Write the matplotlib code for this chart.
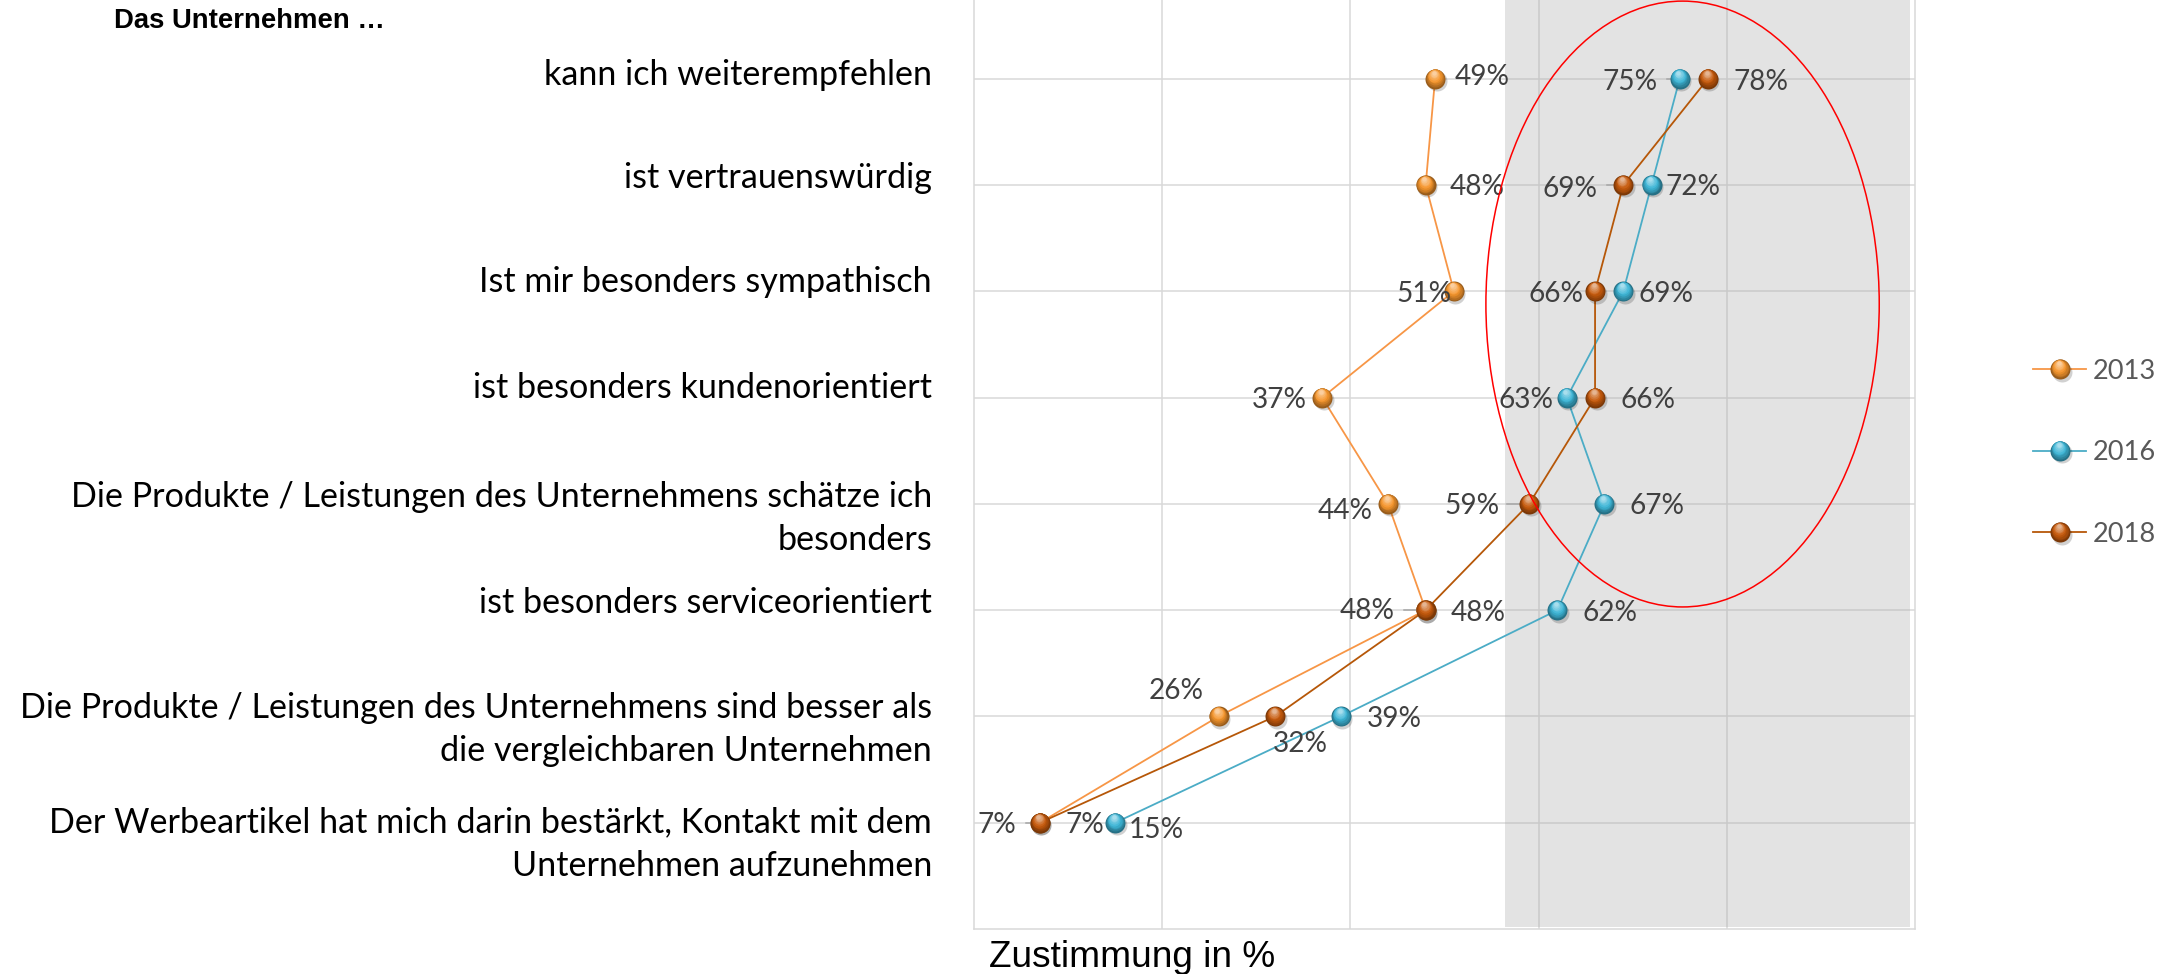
import numpy as np
import matplotlib
matplotlib.use("Agg")
import matplotlib.pyplot as plt
from matplotlib import transforms
from matplotlib.patches import Ellipse
from matplotlib.colors import to_rgb

# ---------------- data ----------------
categories = [
    "kann ich weiterempfehlen",
    "ist vertrauenswürdig",
    "Ist mir besonders sympathisch",
    "ist besonders kundenorientiert",
    "Die Produkte / Leistungen des Unternehmens schätze ich\nbesonders",
    "ist besonders serviceorientiert",
    "Die Produkte / Leistungen des Unternehmens sind besser als\ndie vergleichbaren Unternehmen",
    "Der Werbeartikel hat mich darin bestärkt, Kontakt mit dem\nUnternehmen aufzunehmen",
]
years = ["2013", "2016", "2018"]
values_2013 = [49, 48, 51, 37, 44, 48, 26, 7]
values_2016 = [75, 72, 69, 63, 67, 62, 39, 15]
values_2018 = [78, 69, 66, 66, 59, 48, 32, 7]
title_text = "Das Unternehmen …"
xlabel_text = "Zustimmung in %"

# ---------------- styling / layout ----------------
W, H = 2170, 974
line_colors = {"2013": "#F79646", "2016": "#4BACC6", "2018": "#B65708"}
marker_colors = {"2013": "#F5952C", "2016": "#3DB5D6", "2018": "#C65A0C"}
# label placement per point: (dx px, ha, dy px)
label_layout = {
    "2013": [(20, "left", -4), (24, "left", 0), (-2, "right", 0), (-15, "right", 0),
             (-15, "right", 5), (25, "left", 0), (-43, "center", -28), (26, "left", 0)],
    "2016": [(-22, "right", 1), (14, "left", 0), (15, "left", 0), (-13, "right", 0),
             (25, "left", 0), (25, "left", 0), (26, "left", 0), (14, "left", 5)],
    "2018": [(26, "left", 1), (-26, "right", 2), (-12, "right", 0), (25, "left", 0),
             (-30, "right", 0), (-31, "right", -2), (25, "center", 25), (-24, "right", 0)],
}
# leader lines (series, index, start dx px)
leaders = [("2016", 0, -13), ("2018", 1, -16), ("2018", 4, -22), ("2018", 5, -22), ("2018", 7, -14)]
cat_baseline_off = [6.3, 3, 0.7, 0.4, 2.7, 2.7, 1.4, 10]
CAL = ["Lato", "DejaVu Sans"]
ARIAL = ["Liberation Sans", "DejaVu Sans"]

fig = plt.figure(figsize=(W / 100, H / 100), dpi=100)
ax = fig.add_axes([974 / W, 45 / H, (1915 - 974) / W, 929 / H])
ax.set_xlim(0, 100)
ax.set_ylim(9, 1 - 78.7 / 106.3)
ax.set_axisbelow(True)
ax.set_xticks([20, 40, 60, 80])
ax.set_yticks(np.arange(1, len(categories) + 1))
ax.tick_params(length=0, labelbottom=False, labelleft=False)
ax.grid(True, color="#D9D9D9", lw=1.1)
for s in ["left", "bottom", "right"]:
    ax.spines[s].set_color("#D9D9D9")
    ax.spines[s].set_linewidth(1.1)
ax.spines["top"].set_visible(False)

# grey highlight band (semi-transparent so the grid shows darker through it)
ax.axvspan(56.4, 99.5, ymin=(929 - 926.7) / 929, ymax=1, facecolor="#ADADAD",
           alpha=0.34, lw=0, zorder=1)

ov = fig.add_axes([0, 0, 1, 1])
ov.set_xlim(0, W)
ov.set_ylim(H, 0)
ov.axis("off")
ov.patch.set_alpha(0)

renderer = fig.canvas.get_renderer()


def fit_size(text, family, target_px, weight="normal"):
    t = ov.text(0, 0, text, fontsize=20, family=family, weight=weight)
    w = t.get_window_extent(renderer).width
    t.remove()
    return 20 * target_px / w


def sphere(axx, xs, ys, color, size_px=20, z=5):
    base = np.array(to_rgb(color))
    dark = base * 0.62
    light = base + (1 - base) * 0.55
    tr = transforms.offset_copy(axx.transData, fig=fig, x=1.5, y=-2.5, units="dots")
    axx.scatter(xs, ys, s=(size_px * 0.72) ** 2, color="k", alpha=0.18, lw=0,
                transform=tr, zorder=z)
    n = 9
    for k in range(n):
        f = k / (n - 1)
        d = size_px * (1 - 0.78 * f)
        off = (size_px - d) / 2 * 0.75
        if f < 0.45:
            c = dark + (base - dark) * (f / 0.45)
        else:
            c = base + (light - base) * ((f - 0.45) / 0.55)
        trk = transforms.offset_copy(axx.transData, fig=fig, x=-off * 0.25, y=off,
                                     units="dots")
        axx.scatter(xs, ys, s=(d * 0.72) ** 2, color=np.clip(c, 0, 1), lw=0,
                    transform=trk, zorder=z + 0.01 * (k + 1))


series = {"2013": values_2013, "2016": values_2016, "2018": values_2018}
rows = np.arange(1, len(categories) + 1)
lab_fs = fit_size("75%", CAL, 55)
for i, yr in enumerate(years):
    vals = series[yr]
    z = 3 + 2 * i
    ax.plot(vals, rows, color=line_colors[yr], lw=1.3, zorder=z, solid_capstyle="round")
    sphere(ax, vals, rows, marker_colors[yr], z=z + 0.5)
    for j, (v, r) in enumerate(zip(vals, rows)):
        dx, ha, dy = label_layout[yr][j]
        tr = transforms.offset_copy(ax.transData, fig=fig, x=dx, y=-dy, units="dots")
        ax.text(v, r, f"{v}%", transform=tr, ha=ha, va="center_baseline",
                fontsize=lab_fs, family=CAL, color="#404040", zorder=20)

for yr, j, sdx in leaders:
    v = series[yr][j]
    r = rows[j]
    x0 = ax.transData.transform((v, r))
    p0 = ax.transData.inverted().transform((x0[0] + sdx, x0[1]))
    ax.plot([p0[0], v], [r, r], color="#A6A6A6", lw=1.1, zorder=4)

# red ellipse annotation
ax.add_patch(Ellipse((75.3, 3.12), 41.8, 5.7, fill=False, edgecolor="#FF0000",
                     lw=1.1, zorder=30, clip_on=False))

# category labels
cat_fs = fit_size("Die Produkte / Leistungen des Unternehmens sind besser als", CAL, 915)
for i, lab in enumerate(categories):
    row_px = H - ax.transData.transform((0, rows[i]))[1]
    for k, line in enumerate(lab.split("\n")):
        ov.text(932, row_px + cat_baseline_off[i] + 43.5 * k, line, ha="right",
                va="baseline", fontsize=cat_fs, family=CAL, color="#000000")

# title and axis title
title_fs = fit_size(title_text, ARIAL, 270, weight="bold")
ov.text(114, 28.3, title_text, ha="left", va="baseline", fontsize=title_fs,
        family=ARIAL, weight="bold", color="#000000")
xl_fs = fit_size(xlabel_text, ARIAL, 286)
ov.text(989, 967, xlabel_text, ha="left", va="baseline", fontsize=xl_fs,
        family=ARIAL, color="#000000")

# legend
leg_fs = fit_size("2013", CAL, 63)
for i, yr in enumerate(years):
    yy = 369 + 81.5 * i
    ov.plot([2033, 2086], [yy, yy], color=line_colors[yr], lw=1.3, zorder=3)
    sphere(ov, [2060], [yy], marker_colors[yr], z=4)
    ov.text(2093, yy, yr, ha="left", va="center_baseline", fontsize=leg_fs,
            family=CAL, color="#595959")

fig.savefig("out.png", dpi=100)
